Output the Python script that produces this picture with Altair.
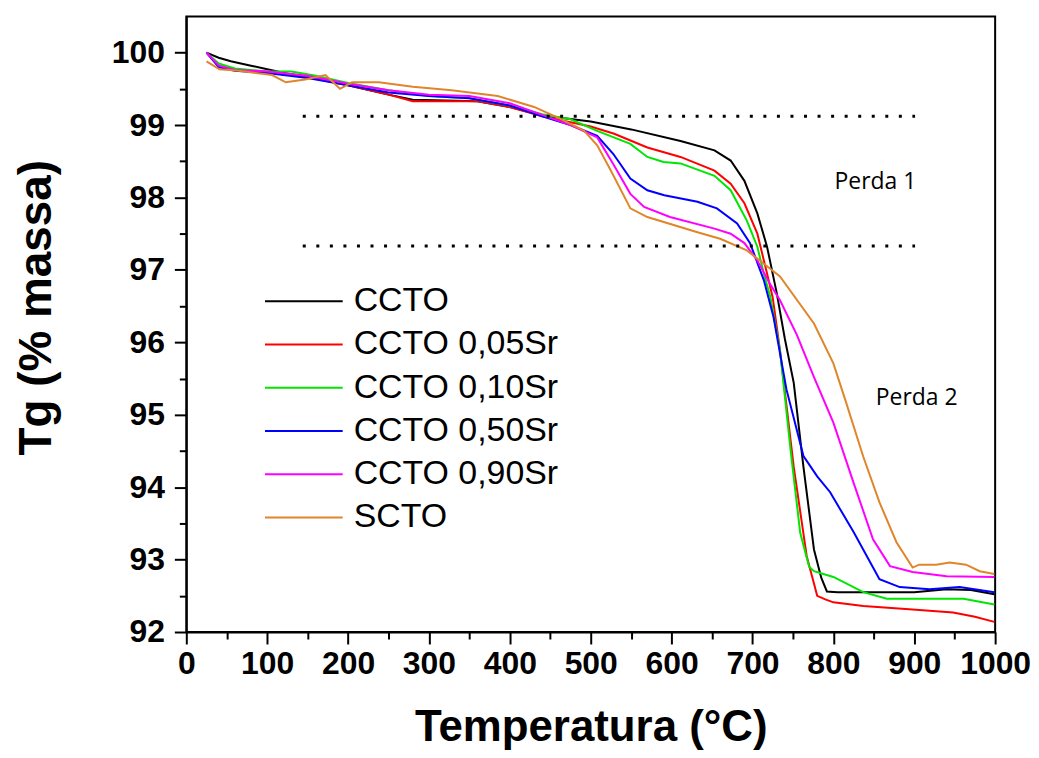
import altair as alt
import pandas as pd

# ---------------- data ----------------
series_names = ["CCTO", "CCTO 0,05Sr", "CCTO 0,10Sr", "CCTO 0,50Sr", "CCTO 0,90Sr", "SCTO"]
series_colors = ["#000000", "#ff0000", "#00e600", "#0000ff", "#ff00ff", "#e0852a"]

ccto_t = [25, 40, 55, 80, 100, 130, 160, 200, 250, 280, 320, 360, 400, 440, 470, 500, 550, 611, 653, 673, 690, 706, 718, 730, 740, 751, 763, 776, 785, 792, 805, 830, 870, 900, 940, 970, 999]
ccto_v = [100.0, 99.93, 99.88, 99.82, 99.77, 99.70, 99.65, 99.55, 99.42, 99.35, 99.34, 99.33, 99.25, 99.13, 99.09, 99.05, 98.94, 98.78, 98.65, 98.51, 98.23, 97.78, 97.32, 96.68, 96.05, 95.44, 94.28, 93.14, 92.75, 92.56, 92.55, 92.55, 92.55, 92.55, 92.59, 92.58, 92.52]

sr05_t = [25, 40, 60, 100, 150, 200, 250, 280, 320, 360, 400, 440, 475, 500, 529, 570, 611, 653, 673, 690, 706, 718, 725, 734, 751, 767, 780, 790, 800, 837, 898, 948, 975, 999]
sr05_v = [100.0, 99.82, 99.76, 99.73, 99.66, 99.55, 99.42, 99.33, 99.33, 99.33, 99.25, 99.12, 99.04, 98.98, 98.88, 98.69, 98.56, 98.37, 98.19, 97.92, 97.50, 96.95, 96.62, 95.89, 94.28, 93.05, 92.50, 92.45, 92.41, 92.36, 92.31, 92.27, 92.21, 92.14]

sr10_t = [25, 40, 60, 100, 130, 160, 200, 250, 300, 350, 400, 440, 475, 508, 549, 570, 590, 611, 653, 673, 693, 706, 714, 722, 734, 747, 759, 770, 776, 800, 837, 866, 919, 961, 999]
sr10_v = [100.0, 99.85, 99.78, 99.74, 99.74, 99.68, 99.58, 99.48, 99.40, 99.37, 99.27, 99.15, 99.08, 98.92, 98.74, 98.56, 98.49, 98.47, 98.30, 98.10, 97.68, 97.32, 96.95, 96.63, 95.89, 94.52, 93.37, 92.90, 92.84, 92.76, 92.55, 92.46, 92.46, 92.46, 92.38]

sr50_t = [25, 40, 60, 100, 150, 200, 250, 300, 350, 400, 440, 475, 508, 528, 549, 570, 591, 632, 656, 681, 697, 714, 726, 742, 763, 780, 796, 825, 857, 882, 919, 956, 999]
sr50_v = [100.0, 99.80, 99.75, 99.72, 99.65, 99.55, 99.45, 99.40, 99.37, 99.27, 99.12, 99.00, 98.85, 98.60, 98.26, 98.10, 98.03, 97.94, 97.85, 97.64, 97.37, 96.86, 96.35, 95.35, 94.43, 94.15, 93.93, 93.38, 92.73, 92.62, 92.59, 92.62, 92.55]

sr90_t = [25, 40, 60, 100, 150, 200, 250, 300, 350, 400, 440, 475, 508, 528, 549, 566, 598, 653, 673, 690, 706, 722, 734, 755, 776, 800, 825, 849, 870, 898, 940, 999]
sr90_v = [100.0, 99.82, 99.76, 99.74, 99.68, 99.57, 99.48, 99.42, 99.40, 99.30, 99.14, 99.00, 98.83, 98.46, 98.05, 97.87, 97.73, 97.57, 97.50, 97.37, 97.13, 96.80, 96.58, 96.10, 95.52, 94.89, 94.06, 93.28, 92.91, 92.83, 92.77, 92.76]

scto_t = [25, 41, 65, 106, 123, 147, 172, 190, 205, 238, 280, 328, 385, 430, 460, 492, 508, 525, 549, 570, 632, 660, 693, 734, 776, 800, 816, 837, 857, 878, 898, 906, 927, 944, 964, 981, 999]
scto_v = [99.88, 99.77, 99.75, 99.69, 99.59, 99.63, 99.69, 99.50, 99.59, 99.59, 99.53, 99.48, 99.40, 99.25, 99.10, 98.92, 98.72, 98.37, 97.85, 97.73, 97.52, 97.43, 97.27, 96.91, 96.26, 95.71, 95.16, 94.42, 93.79, 93.24, 92.89, 92.93, 92.93, 92.96, 92.93, 92.84, 92.80]

dotted_levels = [99.12, 97.33]
dotted_start = [144, 144]
dotted_end = [901, 901]

ann_text = ["Perda 1", "Perda 2"]
ann_t = [852, 903]
ann_v = [98.22, 95.23]

x_major = list(range(0, 1001, 100))
x_minor = list(range(50, 1000, 100))
y_major = list(range(92, 101))
y_minor = [92.5, 93.5, 94.5, 95.5, 96.5, 97.5, 98.5, 99.5]

# ---------------- tables ----------------
all_t = [ccto_t, sr05_t, sr10_t, sr50_t, sr90_t, scto_t]
all_v = [ccto_v, sr05_v, sr10_v, sr50_v, sr90_v, scto_v]
rows = []
for name, ts, vs in zip(series_names, all_t, all_v):
    for t, v in zip(ts, vs):
        rows.append({"series": name, "T": t, "v": v})
df = pd.DataFrame(rows)
df_dot = pd.DataFrame({"y": dotted_levels, "x1": dotted_start, "x2": dotted_end})
df_ann = pd.DataFrame({"text": ann_text, "T": ann_t, "v": ann_v})
df_leg = pd.DataFrame({"series": series_names})

FONT = "Liberation Sans"
xscale = alt.Scale(domain=[0, 1000], nice=False, zero=False)
yscale = alt.Scale(domain=[92, 100.5], nice=False, zero=False)
cscale = alt.Scale(domain=series_names, range=series_colors)

x_axis = alt.Axis(values=x_major, format="d", tickSize=12, tickWidth=2, tickColor="black",
                  domainColor="black", domainWidth=2, labelFont=FONT, labelFontSize=32,
                  labelFontWeight="bold", labelColor="black", labelPadding=5, labelFlush=False,
                  labelOverlap=False, grid=False, title="Temperatura (°C)", titleFont=FONT,
                  titleFontSize=44, titleFontWeight="bold", titleColor="black",
                  titleBaseline="alphabetic", titleY=109, orient="bottom")
y_axis = alt.Axis(values=y_major, format="d", tickSize=12, tickWidth=2, tickColor="black",
                  domainColor="black", domainWidth=2, labelFont=FONT, labelFontSize=32,
                  labelFontWeight="bold", labelColor="black", labelPadding=10, labelFlush=False,
                  labelOverlap=False, grid=False, title="Tg (% massa)", titleFont=FONT,
                  titleFontSize=46, titleFontWeight="bold", titleColor="black",
                  titleBaseline="alphabetic", titleAngle=-90, titleX=-136, titleY=292,
                  orient="left")
x_minor_axis = alt.Axis(values=x_minor, tickSize=7, tickWidth=2, tickColor="black", labels=False,
                        domain=False, grid=False, title=None, orient="bottom")
y_minor_axis = alt.Axis(values=y_minor, tickSize=7, tickWidth=2, tickColor="black", labels=False,
                        domain=False, grid=False, title=None, orient="left")

lines = alt.Chart(df).mark_line(strokeWidth=2).encode(
    x=alt.X("T:Q", scale=xscale, axis=x_axis),
    y=alt.Y("v:Q", scale=yscale, axis=y_axis),
    color=alt.Color("series:N", scale=cscale, legend=None),
    detail="series:N",
)

dots = alt.Chart(df_dot).mark_rule(color="black", strokeWidth=3, strokeDash=[3, 10.6]).encode(
    x=alt.X("x1:Q", scale=xscale, axis=x_minor_axis),
    x2="x2:Q",
    y=alt.Y("y:Q", scale=yscale, axis=y_minor_axis),
)

ann = alt.Chart(df_ann).mark_text(font="Open Sans", fontSize=23, color="black",
                                  align="center", baseline="middle").encode(
    x=alt.X("T:Q", scale=xscale, axis=None),
    y=alt.Y("v:Q", scale=yscale, axis=None),
    text="text:N",
)

leg_y = alt.Y("series:O", sort=series_names,
              scale=alt.Scale(type="point", domain=series_names, range=[286, 503], padding=0),
              axis=None)
leg_lines = alt.Chart(df_leg).mark_rule(strokeWidth=2).encode(
    x=alt.value(79), x2=alt.value(157), y=leg_y,
    color=alt.Color("series:N", scale=cscale, legend=None),
)
leg_text = alt.Chart(df_leg).mark_text(font=FONT, fontSize=34, color="black",
                                       align="left", baseline="middle").encode(
    x=alt.value(168), y=leg_y, text="series:N",
)
legend = alt.layer(leg_lines, leg_text)

chart = alt.layer(lines, dots, ann, legend).resolve_scale(
    y="independent"
).resolve_axis(
    x="independent", y="independent"
).properties(
    width=812, height=618,
    autosize=alt.AutoSizeParams(type="none"),
    padding={"left": 179, "top": 7, "right": 36, "bottom": 118},
).configure_view(
    stroke="black", strokeWidth=2
)

chart.save("out.html", embed_options={"renderer": "svg", "actions": False})
